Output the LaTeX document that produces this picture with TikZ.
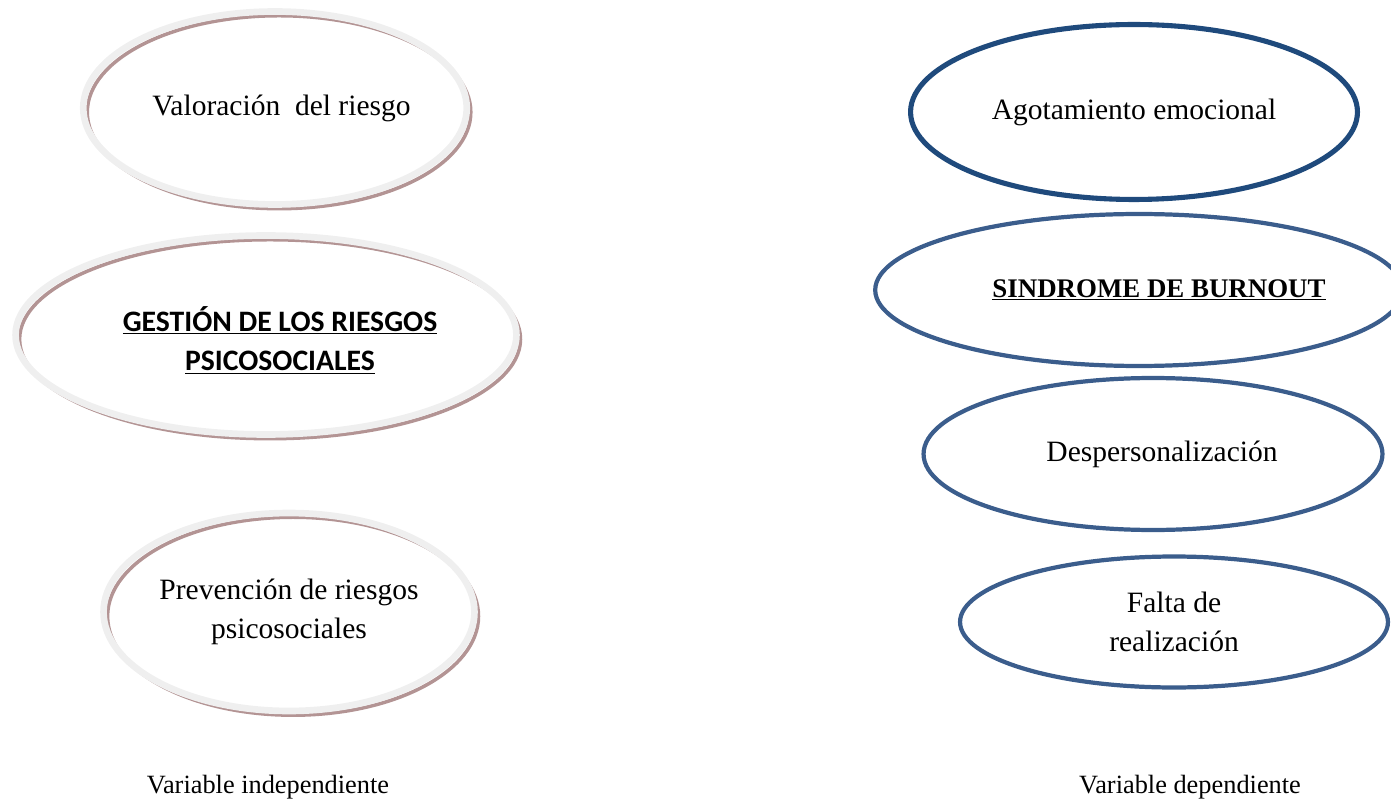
\documentclass[tikz,border=0pt]{standalone}
\usepackage{fontspec}
\setmainfont{Liberation Serif}
\newfontfamily\calibri{Carlito}
\usetikzlibrary{shapes.geometric}

\definecolor{ringgray}{HTML}{EFEFEF}
\definecolor{ringbrown}{HTML}{B39494}
\definecolor{darkblue}{HTML}{1F4A7C}
\definecolor{midblue}{HTML}{3B5D8C}

\tikzset{
  varring/.style={ellipse, draw=ringgray, line width=3.8pt, inner sep=0pt,
    align=center, font=\fontsize{16.8}{21.8}\selectfont,
    preaction={draw=ringbrown, line width=2pt,
      transform canvas={shift={(2.3pt,-2.4pt)}}}},
  burnring/.style={ellipse, draw=midblue, line width=2.4pt, inner sep=0pt,
    align=center, font=\fontsize{16.8}{21.8}\selectfont},
  caption/.style={font=\fontsize{15}{18}\selectfont}
}

\begin{document}
\begin{tikzpicture}[x=0.02cm, y=-0.02cm]
    \useasboundingbox (0,0) rectangle (1391,803);

    % Variable independiente
    \node[varring, minimum width=7.58cm, minimum height=3.86cm] (valor) at (275,108) {\hspace*{0.26cm}Valoración~~del riesgo};
    \node[varring, minimum width=10.02cm, minimum height=3.98cm,
          font=\calibri\bfseries\fontsize{16.9}{21.9}\selectfont] (gestion) at (266,335)
          {\hspace*{0.56cm}\raisebox{-0.16cm}[\height][\depth]{\begin{tabular}{@{}c@{}}\underline{GESTIÓN DE LOS RIESGOS}\\[0.5pt]\underline{PSICOSOCIALES}\end{tabular}}};
    \node[varring, minimum width=7.42cm, minimum height=3.96cm] (prev) at (289,612) {Prevención de riesgos\\psicosociales};

    % Variable dependiente
    \node[burnring, draw=darkblue, line width=2.9pt, minimum width=8.94cm, minimum height=3.5cm] (agot) at (1134,112) {Agotamiento emocional};
    \node[burnring, minimum width=10.5cm, minimum height=3.04cm,
          font=\bfseries\fontsize{15.3}{18}\selectfont] (burnout) at (1139,290) {\hspace*{0.8cm}\underline{SINDROME DE BURNOUT}};
    \node[burnring, minimum width=9.18cm, minimum height=3.04cm] (desp) at (1153,454) {\hspace*{0.36cm}Despersonalización};
    \node[burnring, minimum width=8.56cm, minimum height=2.62cm] (falta) at (1174,622) {Falta de\\realización};

    % Leyendas
    \node[caption] (indep) at (268,787) {Variable independiente};
    \node[caption] (dep) at (1190,787) {Variable dependiente};

\end{tikzpicture}
\end{document}
